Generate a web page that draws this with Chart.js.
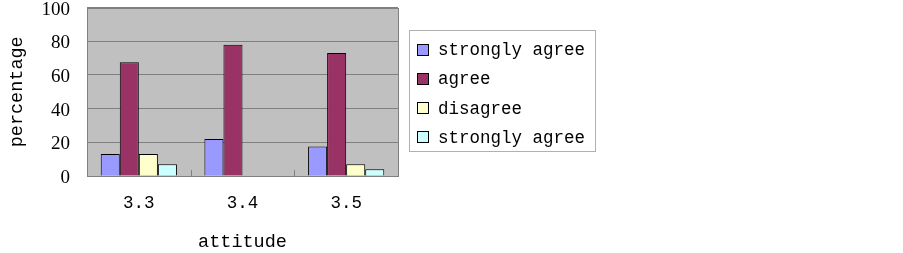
<!DOCTYPE html>
<html>
<head>
<meta charset="utf-8">
<script src="https://cdn.jsdelivr.net/npm/chart.js@4/dist/chart.umd.min.js"></script>
<style>
html,body{margin:0;padding:0;background:#fff;}
#wrap{width:903px;height:253px;position:relative;}
</style>
</head>
<body>
<div id="wrap"><canvas id="c" width="903" height="253"></canvas></div>
<script>
const categories = ["3.3", "3.4", "3.5"];
const seriesNames = ["strongly agree", "agree", "disagree", "strongly agree"];
const stronglyAgree = [13, 22, 17.5];
const agree = [67.5, 78, 73];
const disagree = [13, 0, 7];
const stronglyAgree2 = [7, 0, 4];
const yTicks = [0, 20, 40, 60, 80, 100];
const colors = ["#9999FF", "#993366", "#FFFFCC", "#CCFFFF"];

const mono = "'Liberation Mono', monospace";
const serif = "'Liberation Serif', serif";

// legend box style (outside the plot, to the right)
const legendBox = { left: 409, top: 30, width: 186, height: 121, firstRow: 49.5, rowGap: 29.2, marker: 12, markerX: 417, textX: 438 };

const plotDeco = {
  id: 'plotDeco',
  beforeDraw(chart) {
    const a = chart.chartArea, ctx = chart.ctx;
    ctx.save();
    ctx.fillStyle = '#C0C0C0';
    ctx.fillRect(a.left, a.top, a.right - a.left, a.bottom - a.top);
    ctx.restore();
  },
  afterDatasetsDraw(chart) {
    const a = chart.chartArea, ctx = chart.ctx, xs = chart.scales.x;
    ctx.save();
    ctx.strokeStyle = '#808080';
    ctx.lineWidth = 1;
    ctx.strokeRect(Math.round(a.left) + 0.5, Math.round(a.top) + 0.5, Math.round(a.right - a.left), Math.round(a.bottom - a.top));
    for (let i = 0; i < categories.length - 1; i++) {
      const x = Math.round((xs.getPixelForValue(i) + xs.getPixelForValue(i + 1)) / 2) + 0.5;
      ctx.beginPath();
      ctx.moveTo(x, a.bottom);
      ctx.lineTo(x, a.bottom - 6);
      ctx.stroke();
    }
    ctx.restore();
  },
  afterDraw(chart) {
    const ctx = chart.ctx, L = legendBox;
    ctx.save();
    ctx.strokeStyle = '#B0B0B0';
    ctx.lineWidth = 1;
    ctx.strokeRect(L.left + 0.5, L.top + 0.5, L.width, L.height);
    ctx.font = "17.5px " + mono;
    ctx.textBaseline = 'middle';
    chart.data.datasets.forEach((ds, i) => {
      const cy = L.firstRow + i * L.rowGap;
      const y0 = Math.round(cy - L.marker / 2);
      ctx.fillStyle = ds.backgroundColor;
      ctx.fillRect(L.markerX, y0, L.marker, L.marker);
      ctx.strokeStyle = '#000';
      ctx.strokeRect(L.markerX + 0.5, y0 + 0.5, L.marker - 1, L.marker - 1);
      ctx.fillStyle = '#000';
      ctx.fillText(ds.label, L.textX, cy + 1);
    });
    ctx.restore();
  }
};

const data = {
  labels: categories,
  datasets: [stronglyAgree, agree, disagree, stronglyAgree2].map((vals, i) => ({
    label: seriesNames[i],
    data: vals,
    backgroundColor: colors[i],
    borderColor: '#000',
    borderWidth: 1,
    categoryPercentage: 0.735,
    barPercentage: 1.0
  }))
};

new Chart(document.getElementById('c'), {
  type: 'bar',
  data,
  plugins: [plotDeco],
  options: {
    responsive: false,
    animation: false,
    layout: { padding: { left: 0, top: 0, right: 505, bottom: 0 } },
    plugins: {
      tooltip: { enabled: false },
      legend: { display: false }
    },
    scales: {
      x: {
        afterFit(scale) { scale.height = 77; },
        grid: { display: false, drawTicks: false },
        border: { display: false },
        ticks: { color: '#000', font: { family: mono, size: 17.5 }, padding: 17 },
        title: { display: true, text: 'attitude', color: '#000', font: { family: mono, size: 18.5 }, padding: { top: 0, bottom: 0 } }
      },
      y: {
        min: 0, max: 100,
        afterBuildTicks(scale) { scale.ticks = yTicks.map(v => ({ value: v })); },
        afterFit(scale) { scale.width = 87; scale.paddingTop = 7.6; scale.paddingBottom = 8; },
        grid: { color: '#808080', drawTicks: false },
        border: { display: false },
        ticks: { color: '#000', font: { family: serif, size: 19 }, padding: 17, labelOffset: 2 },
        title: { display: true, text: 'percentage', color: '#000', font: { family: mono, size: 18.5 }, padding: { top: 6, bottom: 0 } }
      }
    }
  }
});
</script>
</body>
</html>
